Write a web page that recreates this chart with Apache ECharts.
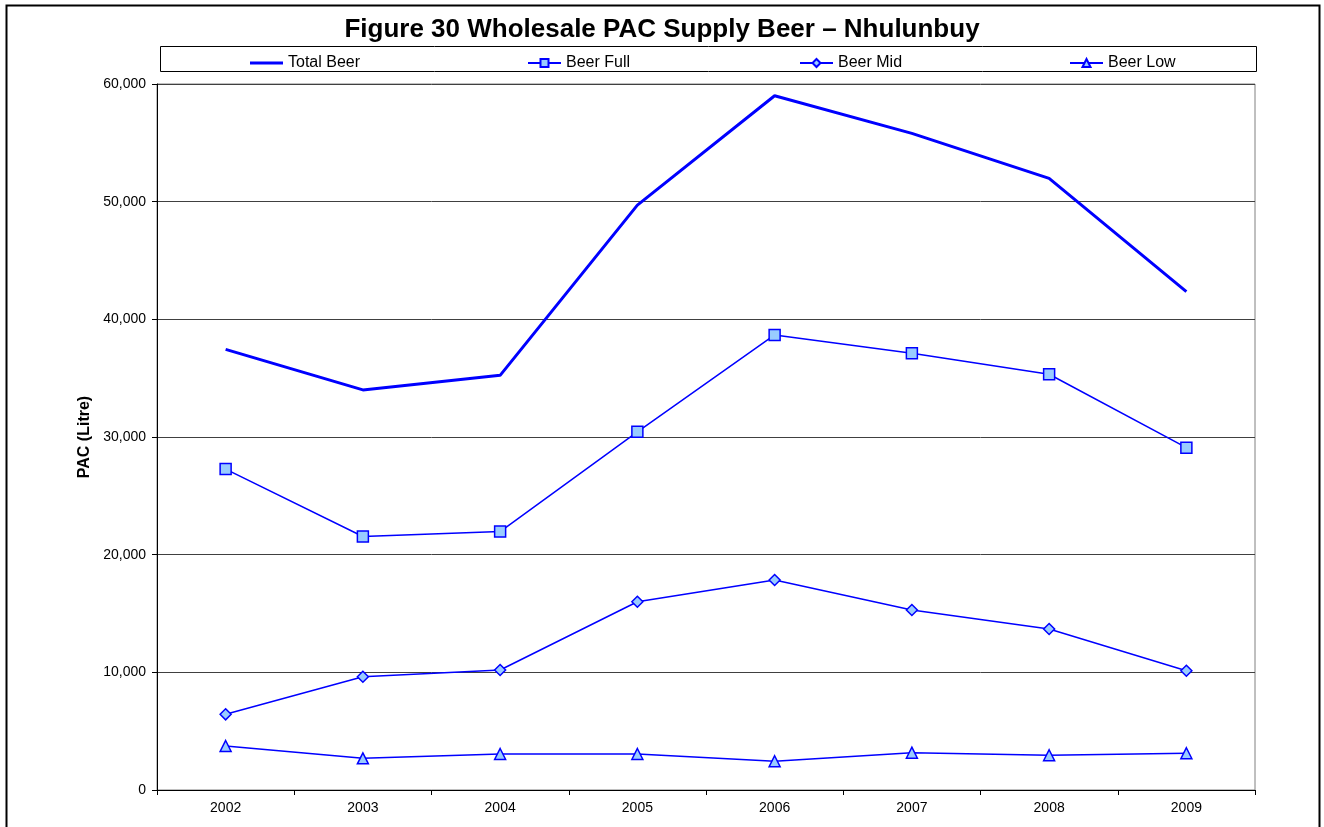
<!DOCTYPE html>
<html>
<head>
<meta charset="utf-8">
<script src="https://cdn.jsdelivr.net/npm/echarts@6/dist/echarts.min.js"></script>
<style>
  html, body { margin: 0; padding: 0; background: #fff; }
  #chart { width: 1324px; height: 827px; }
</style>
</head>
<body>
<div id="chart"></div>
<script>
const years = ["2002", "2003", "2004", "2005", "2006", "2007", "2008", "2009"];
const totalBeer = [37450, 34000, 35240, 49710, 59000, 55800, 51980, 42350];
const beerFull = [27270, 21540, 21960, 30440, 38670, 37110, 35330, 29090];
const beerMid = [6430, 9630, 10200, 16000, 17850, 15300, 13680, 10140];
const beerLow = [3740, 2690, 3060, 3060, 2440, 3170, 2950, 3120];

const blue = "#0000ff";
const markerFill = "#99ccff";
const font = "Liberation Sans, Arial, sans-serif";

const chart = echarts.init(document.getElementById("chart"));

// one legend per item so they spread across the box like the original
const legendAt = (item, left, h) => ({
  data: [item],
  left: left,
  top: 50,
  itemWidth: 33,
  itemHeight: h || 10,
  textStyle: { fontFamily: font, fontSize: 16, color: "#000" },
  selectedMode: false,
});

const markerSeries = (name, data, symbol, size) => ({
  name: name,
  type: "line",
  data: data,
  symbol: symbol,
  symbolSize: size,
  lineStyle: { color: blue, width: 1.5 },
  itemStyle: { color: markerFill, borderColor: blue, borderWidth: 1.5 },
  z: 3,
});

chart.setOption({
  animation: false,
  title: {
    text: "Figure 30 Wholesale PAC Supply Beer – Nhulunbuy",
    left: "center",
    top: 12,
    textStyle: { fontFamily: font, fontSize: 26, fontWeight: "bold", color: "#000" },
  },
  legend: [
    legendAt({ name: "Total Beer", icon: "rect" }, 245, 3),
    legendAt("Beer Full", 522),
    legendAt("Beer Mid", 794),
    legendAt("Beer Low", 1064),
  ],
  graphic: [
    {
      type: "rect",
      shape: { x: 6.5, y: 5.5, width: 1313, height: 830 },
      style: { fill: "none", stroke: "#000", lineWidth: 2 },
      silent: true,
    },
    {
      type: "rect",
      shape: { x: 160.5, y: 46.5, width: 1096, height: 25 },
      style: { fill: "none", stroke: "#000", lineWidth: 1 },
      silent: true,
      z: -1,
    },
  ],
  grid: {
    left: 157,
    right: 69,
    top: 84,
    bottom: 37,
    show: true,
    borderColor: "#808080",
    borderWidth: 1,
  },
  xAxis: {
    type: "category",
    data: years,
    boundaryGap: true,
    axisLine: { lineStyle: { color: "#000", width: 1 } },
    axisTick: { show: true, alignWithLabel: false, length: 5, lineStyle: { color: "#000" } },
    axisLabel: { fontFamily: font, fontSize: 14, color: "#000", margin: 11 },
  },
  yAxis: {
    type: "value",
    min: 0,
    max: 60000,
    interval: 10000,
    name: "PAC (Litre)",
    nameLocation: "middle",
    nameGap: 64,
    nameTextStyle: { fontFamily: font, fontSize: 16, fontWeight: "bold", color: "#000" },
    axisLine: { show: true, lineStyle: { color: "#000", width: 1 } },
    axisTick: { show: true, length: 5, lineStyle: { color: "#000" } },
    axisLabel: {
      fontFamily: font,
      fontSize: 14,
      color: "#000",
      margin: 11,
      formatter: (v) => v.toLocaleString("en-US"),
    },
    splitLine: { show: true, lineStyle: { color: "#404040", width: 1 } },
  },
  series: [
    {
      name: "Total Beer",
      type: "line",
      data: totalBeer,
      symbol: "none",
      lineStyle: { color: blue, width: 3 },
      itemStyle: { color: blue },
      z: 4,
    },
    markerSeries("Beer Full", beerFull, "rect", 11),
    markerSeries("Beer Mid", beerMid, "diamond", 11),
    markerSeries("Beer Low", beerLow, "triangle", 11),
  ],
});
</script>
</body>
</html>
